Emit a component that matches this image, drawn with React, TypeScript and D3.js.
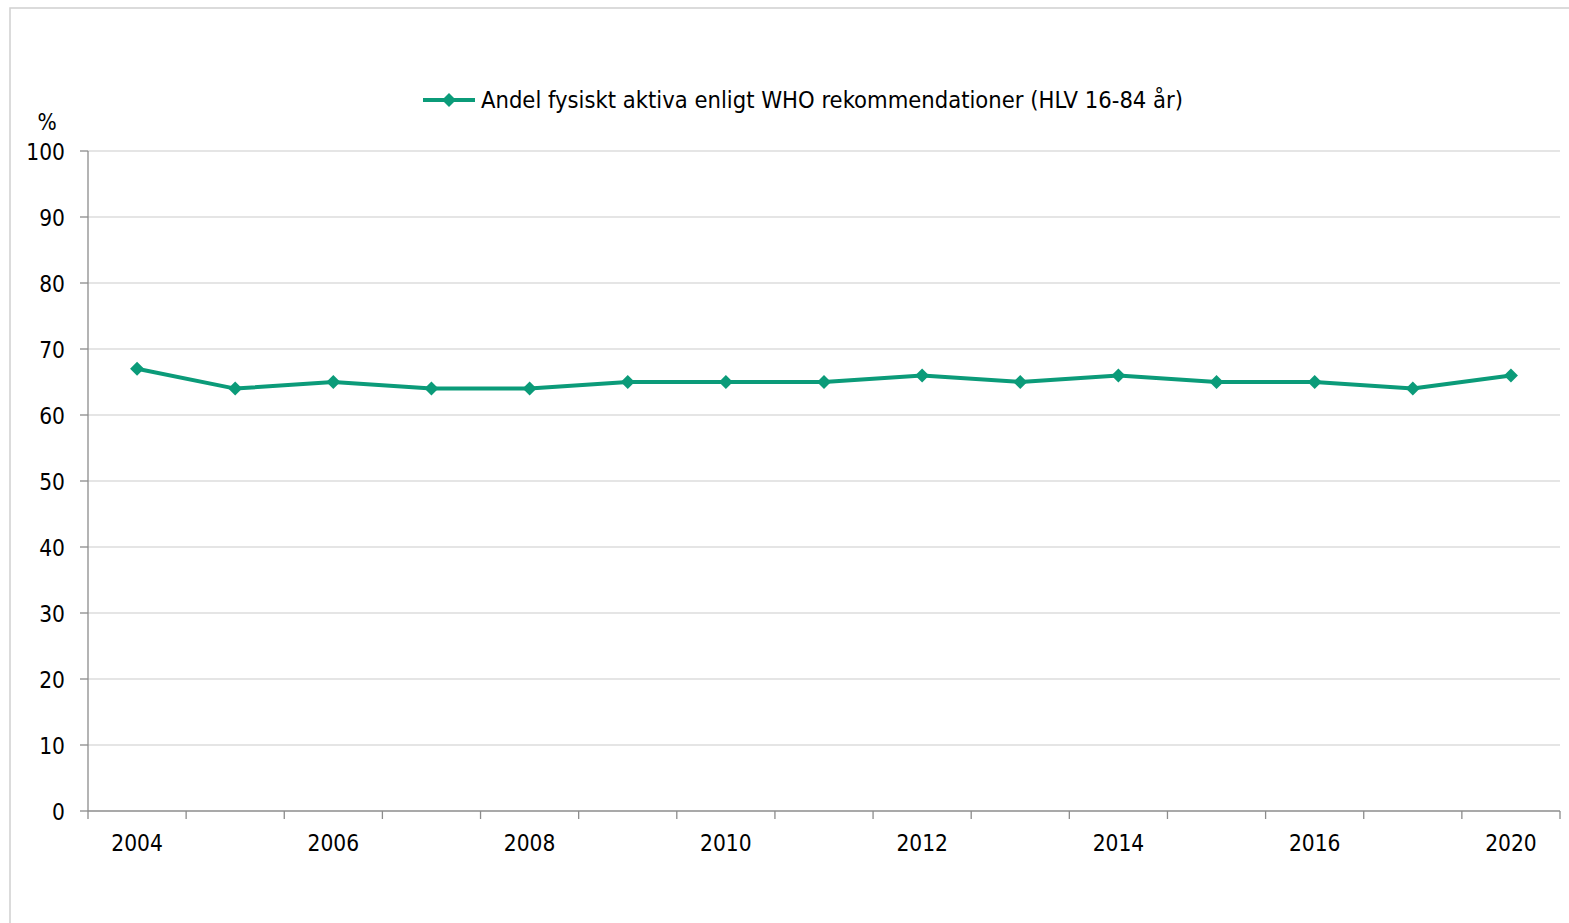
import React from "react";
import * as d3 from "d3";

const years = ["2004","2005","2006","2007","2008","2009","2010","2011","2012","2013","2014","2015","2016","2018","2020"];
const values = [67, 64, 65, 64, 64, 65, 65, 65, 66, 65, 66, 65, 65, 64, 66];
const yTicks = [0, 10, 20, 30, 40, 50, 60, 70, 80, 90, 100];
const seriesName = "Andel fysiskt aktiva enligt WHO rekommendationer (HLV 16-84 år)";

const W = 1569, H = 923;
const L = 88, R = 1560, T = 151, B = 811;
const COLOR = "#0b9b79";
const FONT = "'DejaVu Sans Condensed', 'DejaVu Sans', Verdana, sans-serif";

export default function App() {
  const x = d3.scaleBand<string>().domain(years).range([L, R]).padding(0);
  const y = d3.scaleLinear().domain([0, 100]).range([B, T]);
  const cx = (d: string) => (x(d) as number) + x.bandwidth() / 2;
  const line = d3.line<number>().x((_, i) => cx(years[i])).y((v) => y(v));
  const diamond = (px: number, py: number, r: number) =>
    `M${px},${py - r}L${px + r},${py}L${px},${py + r}L${px - r},${py}Z`;
  const bounds = years.map((d) => x(d) as number).concat([R]);

  return (
    <svg width={W} height={H} style={{ position: "absolute", left: 0, top: 0 }} fontFamily={FONT}>
      <rect x={0} y={0} width={W} height={H} fill="#fff" />
      <rect x={10} y={8} width={W + 20} height={H + 20} fill="none" stroke="#d0d0d0" strokeWidth={1.5} />
      {yTicks.map((t) => (
        <g key={t}>
          {t > 0 && <line x1={L} x2={R} y1={y(t)} y2={y(t)} stroke="#dcdcdc" strokeWidth={1.5} />}
          <line x1={80} x2={L} y1={y(t)} y2={y(t)} stroke="#8c8c8c" strokeWidth={1.3} />
          <text x={65} y={y(t) + 8.5} textAnchor="end" fontSize={22.5} fill="#000">{t}</text>
        </g>
      ))}
      <text x={47} y={130} textAnchor="middle" fontSize={22.5}>%</text>
      <line x1={L} x2={L} y1={T} y2={B} stroke="#8c8c8c" strokeWidth={1.3} />
      <line x1={L} x2={R} y1={B} y2={B} stroke="#8c8c8c" strokeWidth={1.3} />
      {bounds.map((b, i) => (
        <line key={i} x1={b} x2={b} y1={B} y2={B + 8} stroke="#8c8c8c" strokeWidth={1.3} />
      ))}
      {years.map((d, i) =>
        i % 2 === 0 ? (
          <text key={d} x={cx(d)} y={851} textAnchor="middle" fontSize={22.5}>{d}</text>
        ) : null
      )}
      <path d={line(values) || ""} fill="none" stroke={COLOR} strokeWidth={4} strokeLinejoin="round" />
      {values.map((v, i) => (
        <path key={i} d={diamond(cx(years[i]), y(v), 7)} fill={COLOR} />
      ))}
      <line x1={423} x2={475} y1={100} y2={100} stroke={COLOR} strokeWidth={4} />
      <path d={diamond(449, 100, 7)} fill={COLOR} />
      <text x={481} y={108} fontSize={22.5} textLength={702} lengthAdjust="spacingAndGlyphs">{seriesName}</text>
    </svg>
  );
}
